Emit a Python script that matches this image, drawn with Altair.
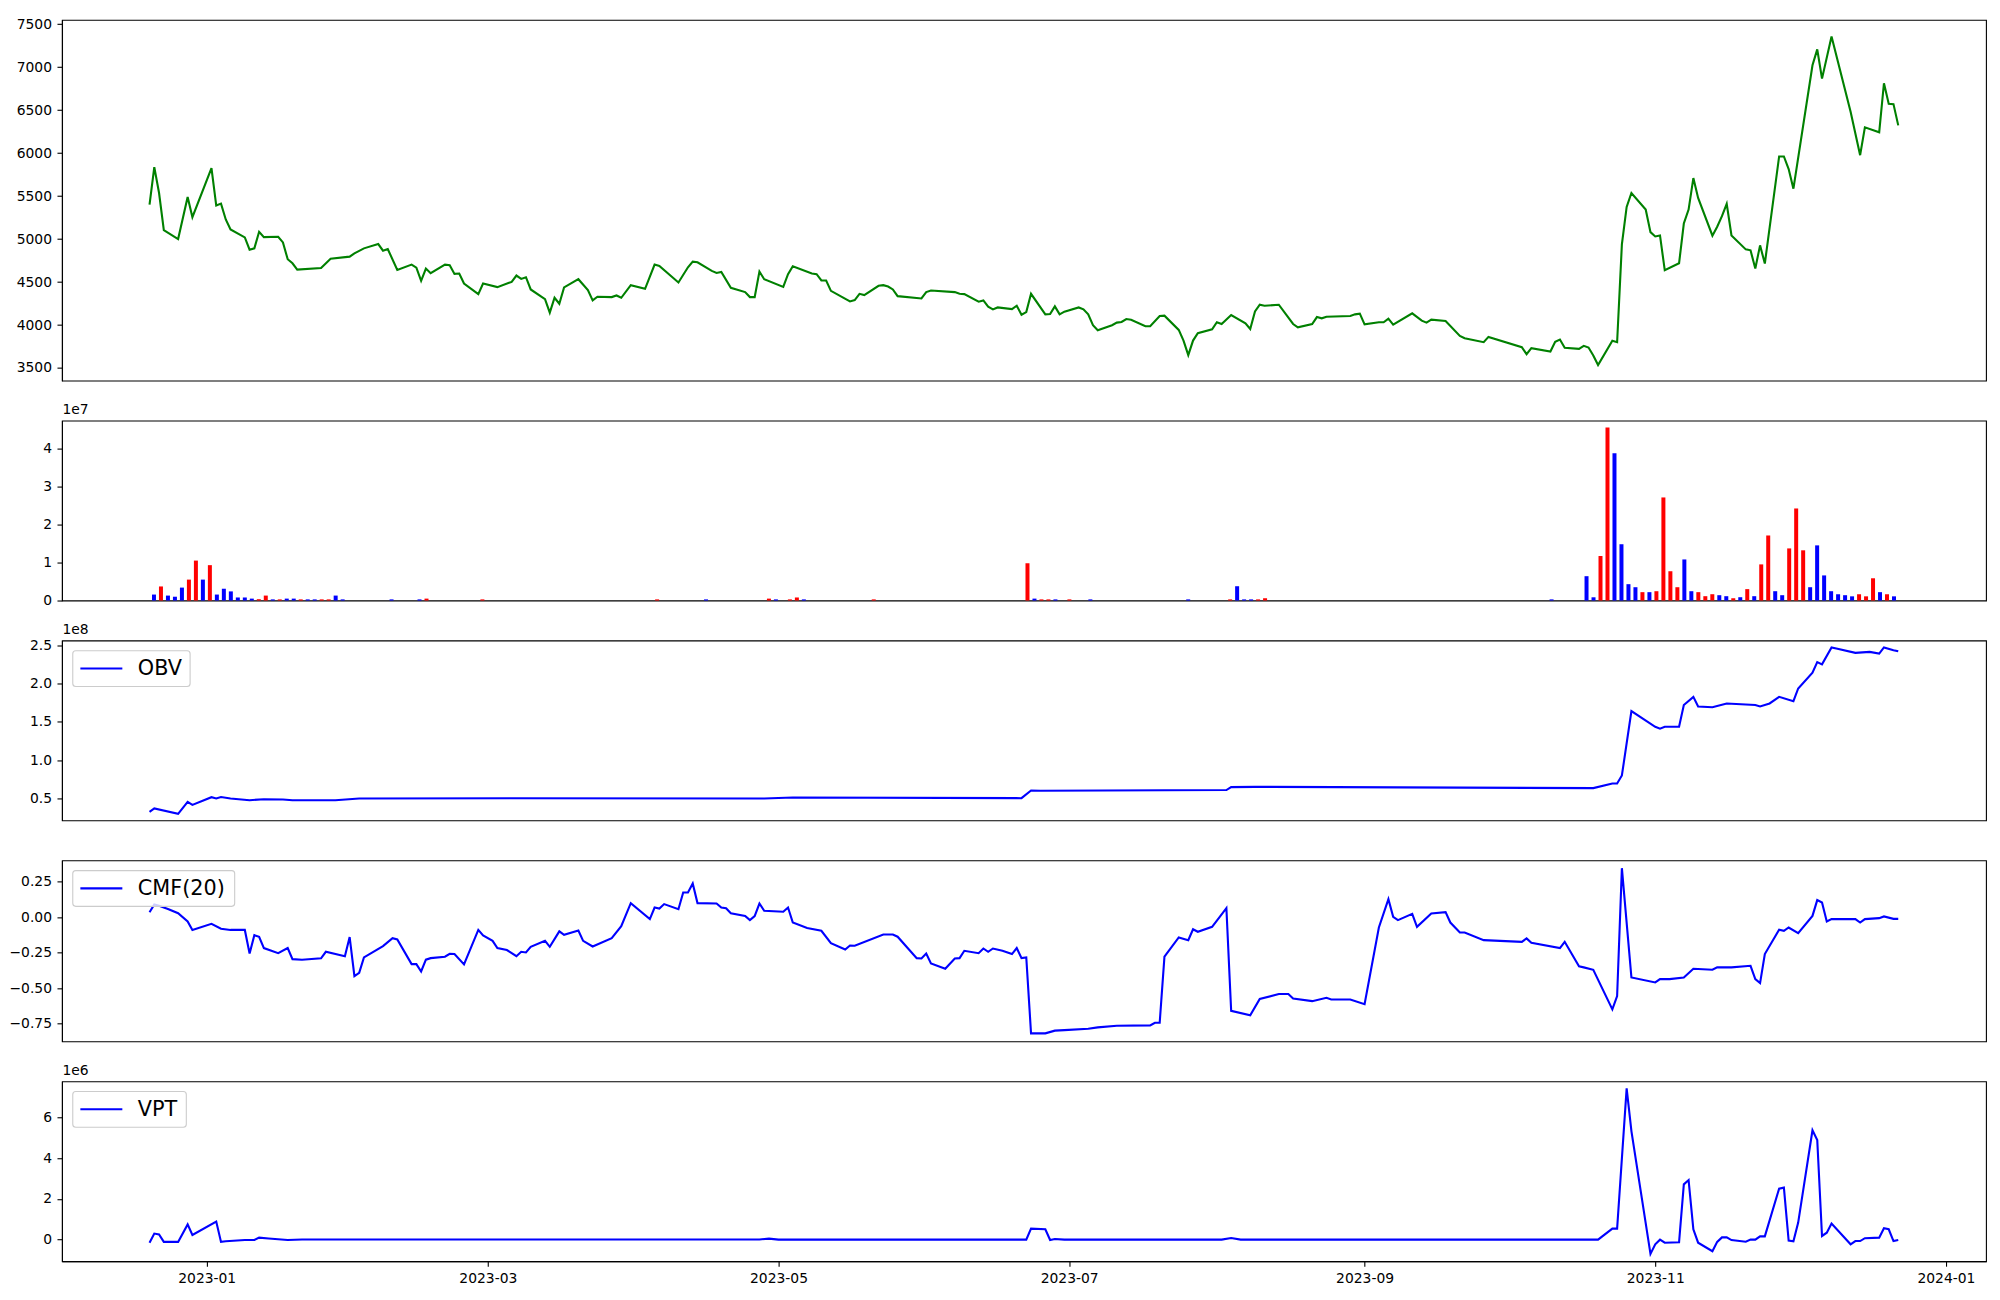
import altair as alt
import pandas as pd

FONT = "DejaVu Sans"
BASE = pd.Timestamp("2023-01-01")

# ---------------- data (days counted from 2023-01-01) ----------------
price_day = [-12, -11, -10, -9, -6, -4, -3, 1, 2, 3, 4, 5, 8, 9, 10, 11, 12, 15, 16, 17, 18, 19, 24, 26, 30, 31, 33,
             36, 37, 38, 40, 43, 44, 45, 46, 47, 50, 51, 52, 53, 54, 57, 58, 61, 64, 65, 66, 67, 68, 71, 72, 73, 74,
             75, 78, 80, 81, 82, 85, 86, 87, 89, 92, 94, 95, 99, 101, 102, 103, 106, 107, 108, 110, 113, 114, 115,
             116, 117, 121, 122, 123, 127, 128, 129, 130, 131, 135, 136, 137, 138, 141, 142, 143, 144, 145, 150, 151,
             152, 157, 158, 159, 162, 163, 164, 165, 166, 169, 170, 171, 172, 173, 176, 177, 178, 179, 180, 183, 184,
             185, 186, 187, 190, 191, 192, 193, 194, 197, 198, 200, 201, 204, 205, 206, 207, 208, 211, 212, 213, 215,
             218, 219, 220, 221, 222, 225, 228, 229, 232, 233, 234, 235, 240, 241, 242, 243, 246, 247, 248, 249, 253,
             255, 256, 257, 260, 263, 264, 268, 269, 276, 277, 278, 282, 283, 284, 285, 288, 289, 290, 291, 292, 295,
             296, 297, 298, 299, 302, 303, 304, 305, 306, 309, 310, 311, 312, 313, 316, 317, 318, 319, 320, 323, 324,
             325, 326, 327, 330, 331, 332, 333, 337, 338, 339, 341, 345, 347, 348, 351, 352, 353, 354, 355]
price_val = [5401, 5837, 5536, 5104, 5000, 5490, 5255, 5826, 5390, 5413, 5228, 5112, 5019, 4877, 4892, 5085, 5023,
             5027, 4961, 4765, 4718, 4645, 4664, 4772, 4796, 4834, 4892, 4942, 4865, 4884, 4641, 4703, 4668, 4514,
             4657, 4603, 4703, 4695, 4595, 4599, 4483, 4360, 4483, 4441, 4502, 4576, 4537, 4556, 4414, 4302, 4144,
             4317, 4248, 4437, 4533, 4406, 4286, 4329, 4325, 4344, 4317, 4464, 4421, 4703, 4688, 4495, 4672, 4738,
             4730, 4630, 4606, 4618, 4433, 4383, 4325, 4325, 4622, 4533, 4444, 4591, 4684, 4599, 4591, 4518, 4518,
             4398, 4275, 4290, 4363, 4348, 4456, 4464, 4448, 4414, 4336, 4309, 4383, 4402, 4383, 4363, 4360, 4271,
             4286, 4213, 4182, 4205, 4186, 4225, 4120, 4151, 4363, 4124, 4128, 4217, 4124, 4155, 4205, 4182, 4124,
             3997, 3939, 3997, 4028, 4036, 4070, 4062, 3985, 3985, 4105, 4109, 3943, 3819, 3650, 3819, 3904, 3951,
             4032, 4012, 4117, 4020, 3954, 4159, 4236, 4225, 4236, 4012, 3974, 4012, 4093, 4078, 4097, 4105, 4124,
             4132, 4008, 4032, 4032, 4074, 4005, 4136, 4051, 4028, 4062, 4047, 3873, 3846, 3800, 3862, 3742, 3661,
             3731, 3692, 3804, 3831, 3735, 3723, 3758, 3738, 3646, 3534, 3816, 3800, 4938, 5374, 5536, 5343, 5081,
             5031, 5042, 4637, 4718, 5181, 5343, 5710, 5478, 5039, 5143, 5266, 5409, 5042, 4880, 4869, 4657, 4927,
             4715, 5961, 5961, 5814, 5586, 7022, 7207, 6867, 7357, 6481, 5976, 6300, 6242, 6813, 6574, 6570, 6323]

# volume: bar position = row number of the trading day (0..249), only non-zero days listed
vol_idx = [0, 1, 2, 3, 4, 5, 6, 7, 8, 9, 10, 11, 12, 13, 14, 15, 16, 17, 18, 19, 20, 21, 22, 23, 24, 25, 26, 27,
           34, 38, 39, 47, 72, 79, 88, 89, 91, 92, 93, 103, 125, 126, 127, 128, 129, 131, 134, 148, 154, 155, 156,
           157, 158, 159, 200, 205, 206, 207, 208, 209, 210, 211, 212, 213, 214, 215, 216, 217, 218, 219, 220, 221,
           222, 223, 224, 225, 226, 227, 228, 229, 230, 231, 232, 233, 234, 235, 236, 237, 238, 239, 240, 241, 242,
           243, 244, 245, 246, 247, 248, 249]
vol_val = [1.57e6, 3.7e6, 1.3e6, 1.0e6, 3.4e6, 5.5e6, 10.5e6, 5.5e6, 9.3e6, 1.57e6, 3.1e6, 2.4e6, 0.8e6, 0.8e6,
           0.5e6, 0.35e6, 1.3e6, 0.3e6, 0.3e6, 0.5e6, 0.5e6, 0.3e6, 0.3e6, 0.3e6, 0.3e6, 0.3e6, 1.3e6, 0.3e6,
           0.3e6, 0.3e6, 0.5e6, 0.3e6, 0.3e6, 0.3e6, 0.5e6, 0.3e6, 0.3e6, 0.8e6, 0.3e6, 0.3e6, 9.8e6, 0.5e6,
           0.3e6, 0.3e6, 0.3e6, 0.3e6, 0.3e6, 0.3e6, 0.3e6, 3.76e6, 0.3e6, 0.3e6, 0.3e6, 0.6e6, 0.3e6, 6.4e6,
           0.85e6, 11.7e6, 45.5e6, 38.7e6, 14.8e6, 4.3e6, 3.5e6, 2.2e6, 2.2e6, 2.45e6, 27.1e6, 7.7e6, 3.5e6,
           10.8e6, 2.45e6, 2.2e6, 1.14e6, 1.66e6, 1.4e6, 1.14e6, 0.6e6, 0.87e6, 3.0e6, 1.14e6, 9.5e6, 17.1e6,
           2.45e6, 1.4e6, 13.7e6, 24.2e6, 13.2e6, 3.5e6, 14.5e6, 6.6e6, 2.45e6, 1.65e6, 1.4e6, 1.1e6, 1.65e6,
           1.1e6, 5.85e6, 2.2e6, 1.65e6, 1.1e6]
vol_dir = ["down", "up", "down", "down", "down", "up", "up", "down", "up", "down", "down", "down", "down", "down",
           "down", "up", "up", "down", "up", "down", "down", "up", "down", "down", "up", "up", "down", "down",
           "down", "down", "up", "up", "up", "down", "up", "down", "up", "up", "down", "up", "up", "down",
           "up", "up", "down", "up", "down", "down", "up", "down", "down", "down", "up", "up", "down", "down",
           "down", "up", "up", "down", "down", "down", "down", "up", "down", "up", "up", "up", "up",
           "down", "down", "up", "up", "up", "down", "down", "up", "down", "up", "down", "up", "up",
           "down", "down", "up", "up", "up", "down", "down", "down", "down", "down", "down", "down", "up",
           "up", "up", "down", "up", "down"]

obv_day = [-12, -11, -6, -4, -3, 1, 2, 3, 5, 9, 12, 16, 18, 27, 32, 64, 117, 123, 171, 173, 175, 214, 215, 220,
           291, 295, 296, 297, 299, 304, 305, 306, 309, 310, 312, 313, 316, 319, 325, 326, 328, 330, 333, 334,
           337, 338, 339, 341, 342, 346, 349, 351, 352, 354, 355]
obv_val = [0.326e8, 0.37e8, 0.30e8, 0.456e8, 0.417e8, 0.517e8, 0.50e8, 0.52e8, 0.50e8, 0.478e8, 0.49e8, 0.487e8,
           0.478e8, 0.478e8, 0.50e8, 0.504e8, 0.50e8, 0.513e8, 0.504e8, 0.604e8, 0.60e8, 0.61e8, 0.648e8,
           0.652e8, 0.635e8, 0.696e8, 0.696e8, 0.80e8, 1.64e8, 1.435e8, 1.41e8, 1.435e8, 1.435e8, 1.72e8,
           1.826e8, 1.70e8, 1.69e8, 1.74e8, 1.72e8, 1.70e8, 1.74e8, 1.826e8, 1.77e8, 1.935e8, 2.14e8, 2.28e8,
           2.25e8, 2.47e8, 2.457e8, 2.40e8, 2.413e8, 2.39e8, 2.47e8, 2.435e8, 2.42e8]

cmf_day = [-12, -11, -10, -8, -6, -4, -3, 1, 3, 5, 8, 9, 10, 11, 12, 15, 17, 18, 20, 24, 25, 29, 30, 31, 32, 33,
           37, 39, 40, 43, 44, 45, 46, 47, 50, 51, 52, 54, 57, 58, 60, 61, 63, 65, 66, 67, 68, 71, 72, 74, 75, 78,
           79, 81, 85, 87, 89, 93, 94, 95, 96, 99, 100, 101, 102, 103, 107, 108, 109, 110, 113, 114, 115, 116,
           117, 121, 122, 123, 126, 129, 131, 134, 135, 136, 142, 144, 145, 149, 150, 151, 152, 155, 157, 158,
           159, 162, 163, 164, 165, 167, 169, 170, 171, 172, 173, 176, 178, 180, 185, 187, 191, 198, 199, 200,
           201, 204, 206, 207, 208, 211, 214, 215, 219, 221, 225, 227, 228, 232, 235, 236, 240, 243, 246, 248,
           249, 250, 253, 254, 257, 260, 261, 263, 264, 268, 276, 277, 278, 284, 285, 288, 289, 291, 295, 296,
           297, 299, 304, 305, 307, 310, 312, 316, 317, 320, 324, 325, 326, 327, 330, 331, 332, 334, 337, 338,
           339, 340, 341, 346, 347, 348, 351, 352, 354, 355]
cmf_val = [0.035, 0.09, 0.08, 0.056, 0.028, -0.03, -0.09, -0.047, -0.082, -0.09, -0.09, -0.256, -0.127, -0.138,
           -0.218, -0.254, -0.218, -0.296, -0.30, -0.29, -0.244, -0.275, -0.14, -0.415, -0.392, -0.284, -0.204,
           -0.148, -0.157, -0.331, -0.331, -0.383, -0.30, -0.289, -0.279, -0.258, -0.26, -0.333, -0.09, -0.129,
           -0.167, -0.218, -0.232, -0.275, -0.244, -0.249, -0.209, -0.167, -0.209, -0.10, -0.124, -0.094, -0.167,
           -0.207, -0.148, -0.063, 0.099, -0.014, 0.068, 0.061, 0.092, 0.056, 0.174, 0.174, 0.237, 0.099, 0.096,
           0.068, 0.063, 0.028, 0.009, -0.021, 0.007, 0.096, 0.045, 0.038, 0.068, -0.038, -0.077, -0.096, -0.183,
           -0.228, -0.20, -0.202, -0.122, -0.122, -0.138, -0.289, -0.291, -0.256, -0.326, -0.364, -0.291, -0.289,
           -0.237, -0.254, -0.221, -0.244, -0.221, -0.237, -0.26, -0.218, -0.289, -0.284, -0.819, -0.819, -0.80,
           -0.796, -0.786, -0.777, -0.765, -0.763, -0.744, -0.744, -0.279, -0.143, -0.162, -0.085, -0.103,
           -0.068, 0.063, -0.66, -0.692, -0.577, -0.542, -0.542, -0.573, -0.592, -0.568, -0.58, -0.58, -0.613,
           -0.073, 0.127, 0.002, -0.021, 0.023, -0.068, 0.026, 0.035, -0.038, -0.108, -0.108, -0.162, -0.174,
           -0.15, -0.181, -0.218, -0.174, -0.347, -0.354, -0.371, -0.65, -0.556, 0.345, -0.425, -0.46, -0.437,
           -0.437, -0.425, -0.364, -0.371, -0.354, -0.354, -0.343, -0.437, -0.465, -0.26, -0.089, -0.096, -0.073,
           -0.113, 0.009, 0.12, 0.103, -0.03, -0.014, -0.014, -0.038, -0.014, -0.007, 0.005, -0.012, -0.012]

vpt_day = [-12, -11, -10, -9, -6, -4, -3, 2, 3, 4, 8, 10, 11, 13, 17, 20, 50, 116, 118, 120, 172, 173, 176, 177,
           178, 180, 213, 215, 217, 292, 295, 296, 298, 299, 303, 304, 305, 306, 309, 310, 311, 312, 313, 316, 317,
           318, 319, 320, 323, 324, 325, 326, 327, 330, 331, 332, 333, 334, 337, 338, 339, 340, 341, 345, 346, 347,
           348, 351, 352, 353, 354, 355]
vpt_val = [-0.15e6, 0.30e6, 0.26e6, -0.11e6, -0.11e6, 0.75e6, 0.23e6, 0.89e6, -0.11e6, -0.08e6, -0.02e6,
           -0.02e6, 0.10e6, 0.06e6, -0.02e6, 0.01e6, 0.01e6, 0.01e6, 0.05e6, 0.0, 0.0, 0.54e6, 0.51e6, -0.02e6,
           0.03e6, 0.0, 0.0, 0.08e6, 0.0, 0.0, 0.54e6, 0.54e6, 7.44e6, 5.34e6, -0.70e6, -0.23e6, 0.0, -0.15e6,
           -0.13e6, 2.72e6, 2.93e6, 0.51e6, -0.15e6, -0.57e6, -0.11e6, 0.11e6, 0.11e6, -0.02e6, -0.10e6, 0.0, 0.0,
           0.16e6, 0.16e6, 2.51e6, 2.56e6, -0.05e6, -0.08e6, 0.84e6, 5.38e6, 4.90e6, 0.18e6, 0.34e6, 0.79e6,
           -0.23e6, -0.07e6, -0.07e6, 0.07e6, 0.10e6, 0.56e6, 0.51e6, -0.07e6, -0.02e6]

N_ROWS = 250  # trading-day rows drawn in the volume panel

assert len(price_day) == len(price_val)
assert len(vol_idx) == len(vol_val) == len(vol_dir)
assert len(obv_day) == len(obv_val)
assert len(cmf_day) == len(cmf_val)
assert len(vpt_day) == len(vpt_val)


def to_date(days):
    return [(BASE + pd.Timedelta(days=int(d))).strftime("%Y-%m-%d") for d in days]


price_df = pd.DataFrame({"date": to_date(price_day), "price": price_val})
vol_df = pd.DataFrame({"idx": vol_idx, "v": [v / 1e7 for v in vol_val], "dir": vol_dir})
obv_df = pd.DataFrame({"date": to_date(obv_day), "val": [v / 1e8 for v in obv_val]})
cmf_df = pd.DataFrame({"date": to_date(cmf_day), "val": cmf_val})
vpt_df = pd.DataFrame({"date": to_date(vpt_day), "val": [v / 1e6 for v in vpt_val]})

# ---------------- layout / style ----------------
W = 1925
LW = 2.1
xscale = alt.Scale(type="utc",
                   domain=[alt.DateTime(year=2022, month=12, date=1, hours=15, utc=True),
                           alt.DateTime(year=2024, month=1, date=9, hours=10, utc=True)])
tick_dates = [alt.DateTime(year=y, month=m, date=1, utc=True)
              for (y, m) in [(2023, 1), (2023, 3), (2023, 5), (2023, 7), (2023, 9), (2023, 11), (2024, 1)]]


def yaxis(values, fmt, title=None):
    kw = dict(values=values, format=fmt, grid=False, tickSize=5, labelPadding=5.5)
    if title is not None:
        kw.update(title=title, titleAngle=0, titleX=0, titleY=-4, titleAlign="left",
                  titleBaseline="bottom", titleFont=FONT, titleFontSize=13.9, titleFontWeight="normal")
    else:
        kw.update(title=None)
    return alt.Axis(**kw)


def legend_layers(label, box_right):
    d = pd.DataFrame({"s": [label]})
    box = alt.Chart(d).mark_rect(fill="white", fillOpacity=0.8, stroke="#cccccc", strokeWidth=1.1,
                                 cornerRadius=3).encode(
        x=alt.value(10.8), x2=alt.value(box_right), y=alt.value(10.2), y2=alt.value(46))
    line = alt.Chart(d).mark_rule(color="blue", strokeWidth=LW).encode(
        x=alt.value(18.4), x2=alt.value(60.4), y=alt.value(28))
    txt = alt.Chart(d).mark_text(align="left", baseline="middle", font=FONT, fontSize=20.8,
                                 color="black").encode(x=alt.value(75.9), y=alt.value(28.5), text="s:N")
    return [box, line, txt]


price = alt.Chart(price_df).mark_line(color="green", strokeWidth=LW).encode(
    x=alt.X("date:T", scale=xscale, axis=None),
    y=alt.Y("price:Q", scale=alt.Scale(domain=[3353, 7551], nice=False, zero=False),
            axis=yaxis([3500, 4000, 4500, 5000, 5500, 6000, 6500, 7000, 7500], "d")),
).properties(width=W, height=361)

vol = alt.Chart(vol_df).mark_bar(width=4).encode(
    x=alt.X("idx:Q", scale=alt.Scale(domain=[-0.05 * (N_ROWS - 1), 1.05 * (N_ROWS - 1)], nice=False, zero=False),
            axis=None),
    y=alt.Y("v:Q", scale=alt.Scale(domain=[0, 4.73], nice=False), axis=yaxis([0, 1, 2, 3, 4], "d", "1e7")),
    color=alt.Color("dir:N", scale=alt.Scale(domain=["up", "down"], range=["red", "blue"]), legend=None),
).properties(width=W, height=180)

obv_line = alt.Chart(obv_df).mark_line(color="blue", strokeWidth=LW).encode(
    x=alt.X("date:T", scale=xscale, axis=None),
    y=alt.Y("val:Q", scale=alt.Scale(domain=[0.214, 2.561], nice=False, zero=False),
            axis=yaxis([0.5, 1.0, 1.5, 2.0, 2.5], ".1f", "1e8")),
)
obv = alt.layer(obv_line, *legend_layers("OBV", 128.2)).properties(width=W, height=180)

cmf_line = alt.Chart(cmf_df).mark_line(color="blue", strokeWidth=LW).encode(
    x=alt.X("date:T", scale=xscale, axis=None),
    y=alt.Y("val:Q", scale=alt.Scale(domain=[-0.875, 0.40], nice=False, zero=False),
            axis=yaxis([-0.75, -0.5, -0.25, 0.0, 0.25], ".2f")),
)
cmf = alt.layer(cmf_line, *legend_layers("CMF(20)", 172.8)).properties(width=W, height=181)

vpt_line = alt.Chart(vpt_df).mark_line(color="blue", strokeWidth=LW).encode(
    x=alt.X("date:T", scale=xscale,
            axis=alt.Axis(values=tick_dates, labelExpr="utcFormat(datum.value, '%Y-%m')", grid=False,
                          tickSize=5, labelPadding=5, title=None)),
    y=alt.Y("val:Q", scale=alt.Scale(domain=[-1.06, 7.79], nice=False, zero=False),
            axis=yaxis([0, 2, 4, 6], "d", "1e6")),
)
vpt = alt.layer(vpt_line, *legend_layers("VPT", 124.4)).properties(width=W, height=180)

chart = alt.vconcat(price, vol, obv, cmf, vpt).properties(
    spacing=40, bounds="flush",
    padding={"left": 0, "top": 7.5, "right": 5, "bottom": 5},
).resolve_scale(
    x="independent", y="independent"
).configure(
    font=FONT, background="white"
).configure_view(
    stroke="black", strokeWidth=1.1
).configure_axis(
    labelFont=FONT, labelFontSize=13.9, labelColor="black", tickColor="black", domainColor="black",
    tickWidth=1.1, domainWidth=1.1
)

chart.save("out.html", embed_options={"renderer": "svg", "actions": False})
